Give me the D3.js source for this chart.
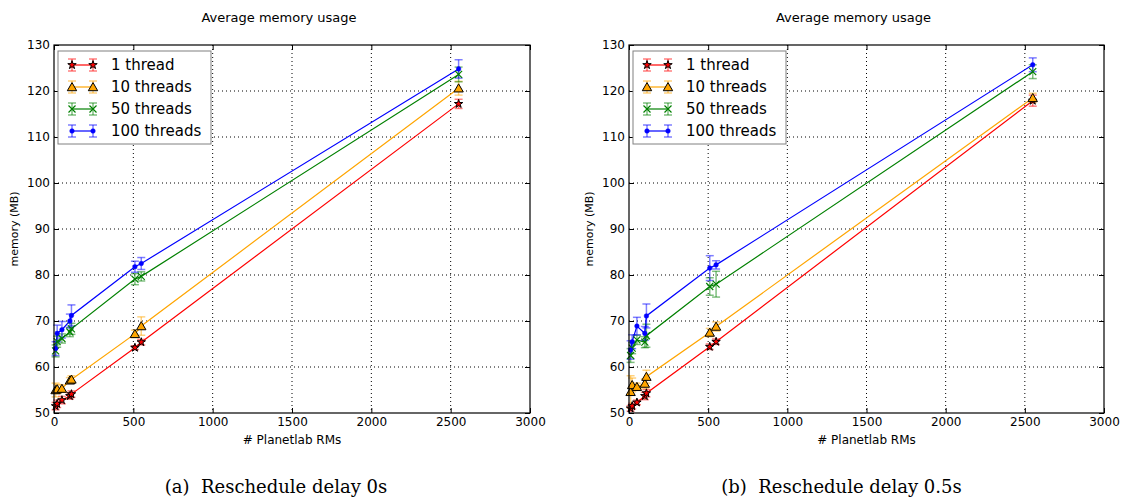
<!DOCTYPE html>
<html>
<head>
<meta charset="utf-8">
<script src="https://cdn.jsdelivr.net/npm/d3@7"></script>
<style>
  body { margin: 0; background: white; }
  svg { display: block; }
</style>
</head>
<body>
<div id="container"></div>
<script>
const W = 1128, H = 501;

// number of Planetlab RMs
const rms = [10, 20, 50, 100, 110, 510, 550, 2550];
const labels = ['1 thread', '10 threads', '50 threads', '100 threads'];
const colors = ['red', 'orange', 'green', 'blue'];
const xTicks = [0, 500, 1000, 1500, 2000, 2500, 3000];
const yTicks = [50, 60, 70, 80, 90, 100, 110, 120, 130];

// (a) reschedule delay 0s
const memA1 = [51.5, 52.0, 52.8, 53.7, 54.1, 64.2, 65.4, 117.2];
const memA10 = [55.0, 55.2, 55.3, 57.1, 57.3, 67.2, 68.9, 120.6];
const memA50 = [63.5, 65.5, 66.2, 67.6, 68.3, 79.1, 79.7, 123.6];
const memA100 = [64.0, 67.3, 68.1, 70.0, 71.2, 81.8, 82.5, 124.8];
const errA1 = [0.8, 0.8, 0.8, 0.7, 0.7, 0.4, 0.6, 1.0];
const errA10 = [1.5, 1.0, 0.8, 0.6, 0.8, 0.8, 2.0, 1.5];
const errA50 = [1.3, 1.2, 1.0, 1.0, 1.2, 1.2, 1.0, 1.6];
const errA100 = [1.5, 1.8, 1.8, 1.5, 2.3, 1.2, 1.3, 2.0];

// (b) reschedule delay 0.5s
const memB1 = [51.0, 51.5, 52.3, 53.7, 54.3, 64.4, 65.5, 117.9];
const memB10 = [54.6, 56.1, 55.7, 56.4, 57.9, 67.5, 68.8, 118.5];
const memB50 = [62.5, 64.1, 65.9, 65.4, 66.8, 77.5, 78.0, 124.2];
const memB100 = [63.7, 65.5, 68.9, 67.3, 71.1, 81.5, 82.2, 125.7];
const errB1 = [0.6, 0.6, 0.5, 0.8, 0.8, 0.6, 0.6, 1.2];
const errB10 = [3.5, 1.5, 0.8, 1.0, 1.4, 0.9, 1.0, 1.0];
const errB50 = [1.5, 1.2, 1.0, 1.2, 2.5, 1.9, 2.8, 1.5];
const errB100 = [2.0, 1.5, 1.9, 1.5, 2.6, 2.7, 0.9, 1.5];

const panels = [
  { left: 54, right: 530, caption: '(a)  Reschedule delay 0s', capShift: -16,
    mem: [memA1, memA10, memA50, memA100], err: [errA1, errA10, errA50, errA100] },
  { left: 629, right: 1104, caption: '(b)  Reschedule delay 0.5s', capShift: -25,
    mem: [memB1, memB10, memB50, memB100], err: [errB1, errB10, errB50, errB100] }
];

const TOP = 45, BOTTOM = 413;
const SANS = 'DejaVu Sans, sans-serif';

const svg = d3.select('#container')
  .append('svg')
  .attr('width', W)
  .attr('height', H);

// draws one marker of series i centred at (x, y)
function marker(g, i, x, y) {
  if (i === 0) {
    const star = d3.symbol().type(d3.symbolStar).size(22);
    g.append('path').attr('d', star).attr('transform', `translate(${x},${y})`)
      .style('fill', 'red').style('stroke', 'black').style('stroke-width', 1);
  } else if (i === 1) {
    const tri = d3.symbol().type(d3.symbolTriangle).size(38);
    g.append('path').attr('d', tri).attr('transform', `translate(${x},${y + 1})`)
      .style('fill', 'orange').style('stroke', 'black').style('stroke-width', 1);
  } else if (i === 2) {
    g.append('path').attr('d', `M${x - 3.5},${y - 3.5}L${x + 3.5},${y + 3.5}M${x - 3.5},${y + 3.5}L${x + 3.5},${y - 3.5}`)
      .style('stroke', 'green').style('stroke-width', 1.2).style('fill', 'none');
  } else {
    g.append('circle').attr('cx', x).attr('cy', y).attr('r', 2.3)
      .style('fill', 'blue').style('stroke', 'blue').style('stroke-width', 0.5);
  }
}

function errorBar(g, i, x, yLo, yHi) {
  const c = colors[i];
  g.append('line').attr('x1', x).attr('x2', x).attr('y1', yLo).attr('y2', yHi)
    .style('stroke', c).style('stroke-opacity', 0.5).style('stroke-width', 1.5);
  [yLo, yHi].forEach(y => {
    g.append('line').attr('x1', x - 4).attr('x2', x + 4).attr('y1', y).attr('y2', y)
      .style('stroke', c).style('stroke-opacity', 0.5).style('stroke-width', 1.5);
  });
}

function drawPanel(p) {
  const x = d3.scaleLinear().domain([0, 3000]).range([p.left, p.right]);
  const y = d3.scaleLinear().domain([50, 130]).range([BOTTOM, TOP]);
  const g = svg.append('g');
  const cx = (p.left + p.right) / 2;

  // grid
  xTicks.slice(1, -1).forEach(t => {
    g.append('line').attr('x1', x(t)).attr('x2', x(t)).attr('y1', TOP).attr('y2', BOTTOM)
      .style('stroke', 'black').style('stroke-width', 1).style('stroke-dasharray', '1,3');
  });
  yTicks.slice(1, -1).forEach(t => {
    g.append('line').attr('x1', p.left).attr('x2', p.right).attr('y1', y(t)).attr('y2', y(t))
      .style('stroke', 'black').style('stroke-width', 1).style('stroke-dasharray', '1,3');
  });

  const plot = g.append('g');
  const line = d3.line().x(d => x(d[0])).y(d => y(d[1]));

  p.mem.forEach((vals, i) => {
    const pts = rms.map((r, k) => [r, vals[k]]);
    plot.append('path').attr('d', line(pts))
      .style('fill', 'none').style('stroke', colors[i]).style('stroke-width', 1.2);
  });
  p.mem.forEach((vals, i) => {
    rms.forEach((r, k) => {
      errorBar(plot, i, x(r), y(vals[k] - p.err[i][k]), y(vals[k] + p.err[i][k]));
    });
  });
  p.mem.forEach((vals, i) => {
    rms.forEach((r, k) => marker(plot, i, x(r), y(vals[k])));
  });

  // axes with inward ticks on all sides
  const fmt = d3.format('d');
  const bottomAxis = d3.axisBottom(x).tickValues(xTicks).tickFormat(fmt).tickSizeInner(-5).tickSizeOuter(0).tickPadding(4);
  const leftAxis = d3.axisLeft(y).tickValues(yTicks).tickFormat(fmt).tickSizeInner(-5).tickSizeOuter(0).tickPadding(4);
  const topAxis = d3.axisTop(x).tickValues(xTicks).tickSizeInner(-5).tickSizeOuter(0).tickFormat('');
  const rightAxis = d3.axisRight(y).tickValues(yTicks).tickSizeInner(-5).tickSizeOuter(0).tickFormat('');

  [[bottomAxis, `translate(0,${BOTTOM})`], [leftAxis, `translate(${p.left},0)`],
   [topAxis, `translate(0,${TOP})`], [rightAxis, `translate(${p.right},0)`]].forEach(([ax, tr]) => {
    const a = g.append('g').attr('transform', tr).call(ax);
    a.select('.domain').remove();
    a.selectAll('text').style('font-family', SANS).style('font-size', '12px').style('fill', 'black');
  });

  g.append('rect').attr('x', p.left).attr('y', TOP)
    .attr('width', p.right - p.left).attr('height', BOTTOM - TOP)
    .style('fill', 'none').style('stroke', 'black').style('stroke-width', 1.2);

  // titles
  g.append('text').attr('x', cx - 13).attr('y', 22).attr('text-anchor', 'middle')
    .style('font-family', SANS).style('font-size', '13px').text('Average memory usage');
  g.append('text').attr('x', cx).attr('y', 444).attr('text-anchor', 'middle')
    .style('font-family', SANS).style('font-size', '12px').text('# Planetlab RMs');
  g.append('text').attr('transform', `translate(${p.left - 36},${(TOP + BOTTOM) / 2}) rotate(-90)`)
    .attr('text-anchor', 'middle')
    .style('font-family', SANS).style('font-size', '11px').text('memory (MB)');
  g.append('text').attr('x', cx + p.capShift).attr('y', 493).attr('text-anchor', 'middle')
    .style('font-family', 'DejaVu Serif, serif').style('font-size', '18px')
    .style('white-space', 'pre').text(p.caption);

  // legend
  const lx = p.left + 4, ly = TOP + 6;
  g.append('rect').attr('x', lx).attr('y', ly).attr('width', 153).attr('height', 93)
    .style('fill', 'white').style('stroke', 'gray').style('stroke-width', 1);
  labels.forEach((lab, i) => {
    const yy = ly + 14 + i * 22;
    const x1 = lx + 14, x2 = lx + 35;
    g.append('line').attr('x1', x1).attr('x2', x2).attr('y1', yy).attr('y2', yy)
      .style('stroke', colors[i]).style('stroke-width', 1.2);
    errorBar(g, i, x1, yy - 6, yy + 6);
    errorBar(g, i, x2, yy - 6, yy + 6);
    marker(g, i, x1, yy);
    marker(g, i, x2, yy);
    g.append('text').attr('x', lx + 53).attr('y', yy + 5)
      .style('font-family', SANS).style('font-size', '15px').text(lab);
  });
}

panels.forEach(drawPanel);
</script>
</body>
</html>
